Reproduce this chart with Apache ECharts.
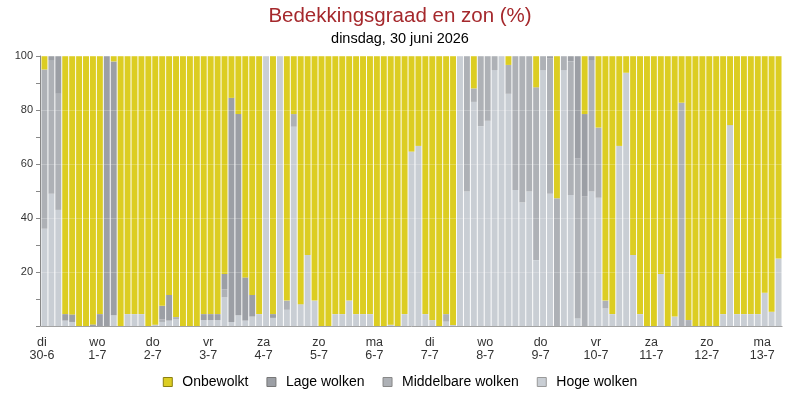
<!DOCTYPE html>
<html>
<head>
<meta charset="utf-8">
<script src="https://cdn.jsdelivr.net/npm/echarts@6/dist/echarts.min.js"></script>
<style>
html,body{margin:0;padding:0;background:#fff;}
#chart{width:800px;height:400px;}
</style>
</head>
<body>
<div id="chart"></div>
<script>
// Day tick labels (one per day, 8 bars of 3 hours per day)
var dayLabels = ['di\n30-6','wo\n1-7','do\n2-7','vr\n3-7','za\n4-7','zo\n5-7','ma\n6-7','di\n7-7','wo\n8-7','do\n9-7','vr\n10-7','za\n11-7','zo\n12-7','ma\n13-7'];
var hours = ['00','03','06','09','12','15','18','21'];
var barCount = 107;

// Hoge wolken (bottom of stack)
var hoge = [36,49,43,2,1.5,0,0,0,0,0,4,0,4.4,4.4,4.4,0,0.5,1.5,2,2.6,0,0,0,2.2,2.2,2.2,10.6,1.5,4,2,3.5,4.4,100,3,100,6,73.8,8.1,26.3,9.4,0,0,4.4,4.4,9.4,4.4,4.4,4.4,0,0,0.5,0,4.4,64.6,66.7,4.4,2.2,0,1.6,0.4,100,49.8,83,74,76,94.8,100,86,50.4,45.7,49.8,24.4,94.8,49,0,94.8,48.5,2.8,0,49.8,47.5,6.5,4.4,66.7,93.8,26.3,4.4,0,0,19.3,0,3.5,0,0,0,0,0,0,4.4,74.4,4.4,4.4,4.4,4.4,12.3,5.3,25];
// Middelbare wolken
var middel = [59,49.5,43,0,0,0,0,0,0,0,0,0,0,0,0,0,0,1,0,0.7,0,0,0,0,0,0,3,0,0,0,0,0,0,0,0,3.4,4.7,0,0,0,0,0,0,0,0,0,0,0,0,0,0,0,0,0,0,0,0,0,2.8,0,0,50.2,5,26,24,5.2,0,10.7,49.6,54.3,50.2,64,5.2,50,47.3,5.2,49.6,59.3,47.9,48.7,26,2.9,0,0,0,0,0,0,0,0,0,0,82.7,2.2,0,0,0,0,0,0,0,0,0,0,0,0,0];
// Lage wolken
var lage = [0,1.5,14,2.4,2.8,0,0,0.6,4.4,100,94,0,0,0,0,0,0,5,9.5,0,0,0,0,2.2,2.2,2.2,5.7,83,74.5,16,8,0,0,1.4,0,0,0,0,0,0,0,0,0,0,0,0,0,0,0,0,0,0,0,0,0,0,0,0,0,0,0,0,0,0,0,0,0,0,0,0,0,0,0,1,0,0,1.9,37.9,30.6,1.5,0,0,0,0,0,0,0,0,0,0,0,0,0,0,0,0,0,0,0,0,0,0,0,0,0,0,0];
// Onbewolkt (top of stack)
var onbewolkt = [5,0,0,95.6,95.7,100,100,99.4,95.6,0,2,100,95.6,95.6,95.6,100,99.5,92.5,88.5,96.7,100,100,100,95.6,95.6,95.6,80.7,15.5,21.5,82,88.5,95.6,0,95.6,0,90.6,21.5,91.9,73.7,90.6,100,100,95.6,95.6,90.6,95.6,95.6,95.6,100,100,99.5,100,95.6,35.4,33.3,95.6,97.8,100,95.6,99.6,0,0,12,0,0,0,0,3.3,0,0,0,11.6,0,0,52.7,0,0,0,21.5,0,26.5,90.6,95.6,33.3,6.2,73.7,95.6,100,100,80.7,100,96.5,17.3,97.8,100,100,100,100,95.6,25.6,95.6,95.6,95.6,95.6,87.7,94.7,75];

var categories = [];
for (var i = 0; i < barCount; i++) {
  categories.push(Math.floor(i / 8) + ' ' + hours[i % 8]);
}

var colOnb = '#dccd22', colLage = '#9c9fa5', colMid = '#aeb1b6', colHoge = '#c9ced4';

var chart = echarts.init(document.getElementById('chart'), null, {renderer: 'canvas'});
function bar(name, data, color) {
  return {
    name: name, type: 'bar', stack: 'total', data: data,
    barCategoryGap: '14%',
    itemStyle: {color: color},
    emphasis: {disabled: true},
    animation: false
  };
}
chart.setOption({
  animation: false,
  backgroundColor: '#fff',
  title: {
    text: 'Bedekkingsgraad en zon (%)',
    subtext: 'dinsdag, 30 juni 2026',
    left: 'center', top: 1, itemGap: 4,
    textStyle: {color: '#a5282c', fontSize: 20.5, fontWeight: 'normal', fontFamily: 'Liberation Sans'},
    subtextStyle: {color: '#000', fontSize: 14.5, fontFamily: 'Liberation Sans'}
  },
  legend: {
    bottom: 6, left: 'center',
    icon: 'rect', itemWidth: 9, itemHeight: 9, itemGap: 18,
    textStyle: {color: '#000', fontSize: 14, fontFamily: 'Liberation Sans', padding: [0,0,0,5]},
    data: [
      {name: 'Onbewolkt', itemStyle: {borderColor: '#8a7f10', borderWidth: 1}},
      {name: 'Lage wolken', itemStyle: {borderColor: '#777', borderWidth: 1}},
      {name: 'Middelbare wolken', itemStyle: {borderColor: '#888', borderWidth: 1}},
      {name: 'Hoge wolken', itemStyle: {borderColor: '#999', borderWidth: 1}}
    ]
  },
  grid: {left: 41, right: 18, top: 56, bottom: 74},
  xAxis: {
    type: 'category', data: categories, boundaryGap: true,
    axisLine: {show: true, lineStyle: {color: '#888', width: 1}},
    axisTick: {show: false},
    axisLabel: {
      interval: function (idx) { return idx % 8 === 0; },
      formatter: function (v, idx) { return dayLabels[idx / 8]; },
      color: '#333', fontSize: 12.5, fontFamily: 'Liberation Sans', lineHeight: 13, margin: 10,
      padding: [0, 5, 0, 0]
    },
    splitLine: {show: false}
  },
  yAxis: {
    type: 'value', min: 0, max: 100, interval: 20, offset: 1, z: 5,
    axisLine: {show: true, lineStyle: {color: '#888'}},
    axisTick: {show: true, length: 4, lineStyle: {color: '#888'}},
    minorTick: {show: true, splitNumber: 2, length: 4, lineStyle: {color: '#888'}},
    axisLabel: {
      color: '#333', fontSize: 11, fontFamily: 'Liberation Sans', margin: 7,
      formatter: function (v) { return v === 0 ? '' : String(v); }
    },
    splitLine: {show: true, lineStyle: {color: 'rgba(255,255,255,0.22)', width: 1}}
  },
  series: [
    bar('Hoge wolken', hoge, colHoge),
    bar('Middelbare wolken', middel, colMid),
    bar('Lage wolken', lage, colLage),
    bar('Onbewolkt', onbewolkt, colOnb)
  ]
});
</script>
</body>
</html>
